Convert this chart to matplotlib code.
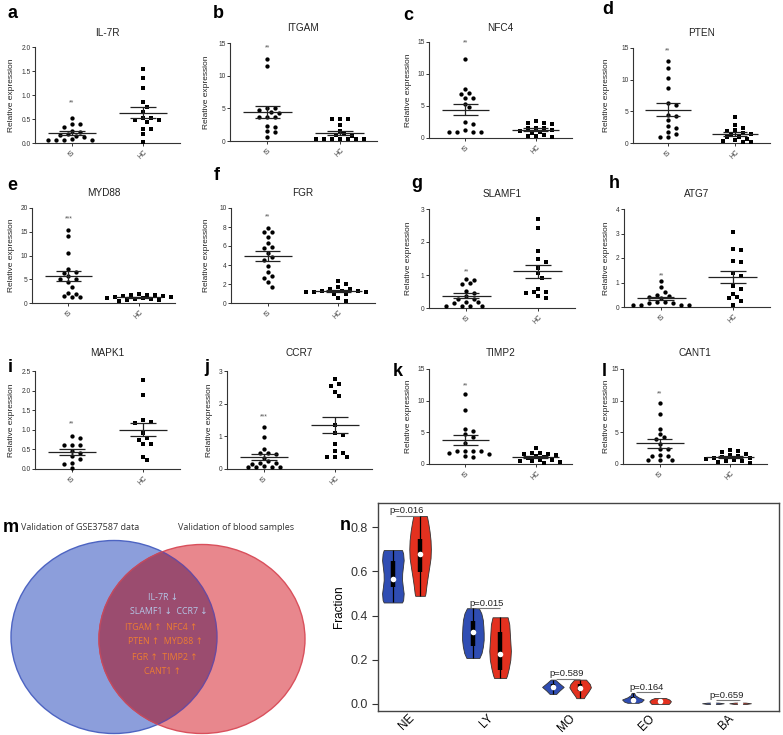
import numpy as np
import matplotlib
matplotlib.use("Agg")
import matplotlib.pyplot as plt
from matplotlib.patches import Ellipse

W, H = 783, 735
plt.rcParams['font.family'] = ['Liberation Sans', 'DejaVu Sans']

# ---------------- data: panels a-l (qPCR, IS vs HC) ----------------
genes = ['IL-7R', 'ITGAM', 'NFC4', 'PTEN', 'MYD88', 'FGR',
         'SLAMF1', 'ATG7', 'MAPK1', 'CCR7', 'TIMP2', 'CANT1']
letters = list('abcdefghijkl')
groups = ['IS', 'HC']
stars = ['**', '**', '**', '**', '***', '**', '**', '**', '**', '***', '**', '**']

is_vals = [
    [0.53, 0.40, 0.40, 0.34, 0.26, 0.22, 0.18, 0.16, 0.15, 0.12, 0.08, 0.07, 0.07, 0.07, 0.07],
    [12.5, 11.5, 5.0, 5.0, 4.7, 4.4, 4.3, 3.6, 3.6, 3.7, 2.3, 2.2, 1.5, 1.4, 0.6],
    [12.4, 7.7, 7.0, 6.8, 6.3, 6.3, 5.3, 4.8, 2.5, 2.2, 1.3, 0.9, 0.9, 0.9, 0.9],
    [13.0, 11.8, 10.2, 8.7, 6.3, 6.0, 4.5, 4.3, 3.6, 2.7, 2.3, 1.8, 1.5, 1.0, 1.0],
    [15.3, 14.1, 10.6, 7.1, 6.6, 6.3, 5.6, 5.0, 5.0, 4.4, 3.4, 2.1, 1.9, 1.4, 1.2, 1.2],
    [7.9, 7.5, 7.5, 6.9, 6.3, 5.9, 5.8, 5.3, 4.8, 4.5, 3.9, 3.3, 2.8, 2.6, 2.2, 1.7],
    [0.88, 0.85, 0.75, 0.74, 0.52, 0.45, 0.35, 0.28, 0.28, 0.18, 0.17, 0.15, 0.07, 0.07, 0.07, 0.07],
    [1.05, 0.82, 0.62, 0.50, 0.45, 0.40, 0.35, 0.20, 0.20, 0.18, 0.17, 0.08, 0.08, 0.08, 0.08],
    [0.83, 0.78, 0.62, 0.62, 0.60, 0.45, 0.42, 0.32, 0.25, 0.15, 0.13, 0.02],
    [1.30, 0.97, 0.60, 0.50, 0.50, 0.45, 0.35, 0.25, 0.18, 0.18, 0.15, 0.08, 0.05, 0.05, 0.05, 0.05],
    [11.1, 8.6, 5.6, 5.2, 4.7, 4.3, 3.3, 2.0, 2.0, 2.0, 2.0, 1.7, 1.6, 1.2, 1.1],
    [9.6, 7.9, 5.6, 4.8, 4.2, 3.9, 3.2, 2.3, 2.3, 1.4, 1.3, 1.2, 0.6, 0.6, 0.6],
]
hc_vals = [
    [1.55, 1.35, 1.15, 0.85, 0.75, 0.64, 0.53, 0.52, 0.48, 0.47, 0.43, 0.30, 0.30, 0.18, 0.02],
    [3.4, 3.4, 3.3, 2.5, 1.5, 1.0, 0.9, 0.8, 0.3, 0.3, 0.3, 0.3, 0.3, 0.3, 0.3],
    [2.6, 2.4, 2.3, 2.2, 1.6, 1.5, 1.5, 1.3, 1.1, 1.0, 0.8, 0.4, 0.3, 0.3, 0.2],
    [4.1, 2.8, 2.4, 2.0, 1.9, 1.6, 1.5, 1.4, 1.0, 0.9, 0.6, 0.5, 0.3, 0.1, 0.1],
    [1.8, 1.7, 1.6, 1.6, 1.5, 1.4, 1.3, 1.2, 1.1, 1.0, 0.9, 0.8, 0.7, 0.6, 0.4],
    [2.3, 2.0, 1.7, 1.5, 1.5, 1.3, 1.3, 1.3, 1.2, 1.2, 1.2, 1.0, 0.9, 0.5, 0.2],
    [2.70, 2.42, 1.72, 1.47, 1.38, 1.22, 1.05, 0.90, 0.57, 0.50, 0.47, 0.45, 0.35, 0.30],
    [3.05, 2.35, 2.33, 1.87, 1.85, 1.38, 1.27, 0.87, 0.75, 0.55, 0.42, 0.35, 0.25, 0.10],
    [2.27, 1.90, 1.25, 1.20, 1.18, 0.92, 0.80, 0.75, 0.65, 0.65, 0.30, 0.22],
    [2.75, 2.60, 2.55, 2.35, 2.25, 1.35, 1.10, 1.05, 0.75, 0.55, 0.50, 0.37, 0.37, 0.37],
    [2.5, 1.8, 1.7, 1.6, 1.5, 1.4, 1.2, 1.1, 0.9, 0.7, 0.6, 0.5, 0.4, 0.3, 0.1],
    [2.2, 2.0, 1.9, 1.6, 1.4, 1.2, 1.1, 1.0, 0.9, 0.8, 0.7, 0.5, 0.4, 0.3, 0.1],
]
y_max = [2.0, 15, 15, 15, 20, 10, 3, 4, 2.5, 3, 15, 15]
y_step = [0.5, 5, 5, 5, 5, 2, 1, 1, 0.5, 1, 5, 5]
star_y = [0.84, 14.3, 14.8, 14.6, 17.7, 9.1, 1.1, 1.28, 1.15, 1.6, 12.4, 11.1]

# ---------------- data: panel m (Venn) ----------------
venn_titles = ['Validation of GSE37587 data', 'Validation of blood samples']
venn_text = ['IL-7R \u2193', 'SLAMF1 \u2193  CCR7 \u2193', 'ITGAM \u2191  NFC4 \u2191',
             'PTEN \u2191  MYD88 \u2191', 'FGR \u2191  TIMP2 \u2191', 'CANT1 \u2191']
venn_dir = ['down', 'down', 'up', 'up', 'up', 'up']

# ---------------- data: panel n (violins) ----------------
cells = ['NE', 'LY', 'MO', 'EO', 'BA']
p_text = ['p=0.016', 'p=0.015', 'p=0.589', 'p=0.164', 'p=0.659']
p_line = [0.851, 0.433, 0.113, 0.053, 0.017]
# density profile (y, relative width) and (min, q1, median, q3, max)
is_prof_y = [[0.459, 0.47, 0.50, 0.53, 0.56, 0.59, 0.62, 0.65, 0.68, 0.696],
             [0.208, 0.23, 0.26, 0.29, 0.32, 0.35, 0.38, 0.41, 0.433],
             [0.045, 0.06, 0.077, 0.095, 0.110],
             [0.005, 0.01, 0.02, 0.03, 0.04, 0.050],
             [0.0, 0.003, 0.006]]
is_prof_w = [[0.85, 0.95, 1.0, 0.92, 0.85, 0.86, 0.93, 1.0, 0.95, 0.85],
             [0.6, 0.8, 0.93, 1.0, 1.0, 0.97, 0.92, 0.78, 0.55],
             [0.3, 0.6, 1.0, 0.55, 0.2],
             [0.5, 0.8, 1.0, 0.5, 0.2, 0.12],
             [0.6, 1.0, 0.5]]
is_box = [(0.459, 0.528, 0.567, 0.648, 0.696),
          (0.208, 0.260, 0.326, 0.373, 0.433),
          (0.045, 0.068, 0.077, 0.090, 0.110),
          (0.005, 0.015, 0.020, 0.030, 0.050),
          (0.0, 0.002, 0.003, 0.004, 0.006)]
hc_prof_y = [[0.489, 0.50, 0.54, 0.58, 0.62, 0.66, 0.70, 0.74, 0.78, 0.82, 0.850],
             [0.117, 0.13, 0.16, 0.20, 0.24, 0.28, 0.32, 0.36, 0.392],
             [0.026, 0.035, 0.055, 0.075, 0.09, 0.110],
             [0.0, 0.005, 0.012, 0.02, 0.027],
             [0.0, 0.003, 0.006]]
hc_prof_w = [[0.45, 0.5, 0.6, 0.72, 0.85, 0.97, 1.0, 0.97, 0.88, 0.75, 0.63],
             [0.55, 0.65, 0.8, 0.95, 1.0, 0.95, 0.9, 0.85, 0.7],
             [0.35, 0.45, 0.75, 1.0, 0.9, 0.55],
             [0.8, 0.9, 1.0, 0.85, 0.5],
             [0.6, 1.0, 0.5]]
hc_box = [(0.489, 0.598, 0.677, 0.744, 0.850),
          (0.117, 0.155, 0.227, 0.325, 0.392),
          (0.026, 0.060, 0.072, 0.090, 0.110),
          (0.0, 0.008, 0.014, 0.020, 0.027),
          (0.0, 0.002, 0.003, 0.004, 0.006)]


def box(x0, y0, x1, y1):
    return [x0 / W, 1 - y1 / H, (x1 - x0) / W, (y1 - y0) / H]


def swarm(vals, ppu_x, ppu_y, d=5.0):
    vals = np.asarray(vals, float)
    xs = np.zeros(len(vals))
    placed = []
    for i in np.argsort(-vals):
        yp = vals[i] * ppu_y
        for k in range(60):
            off = ((k + 1) // 2) * (1 if k % 2 else -1) * d * 0.8
            if all((off - px) ** 2 + (yp - py) ** 2 >= d * d for px, py in placed):
                break
        placed.append((off, yp))
        xs[i] = off / ppu_x
    return xs


fig = plt.figure(figsize=(W / 100, H / 100), dpi=100)

# pixel boxes of the 12 scatter panels
ax_px = [(35, 47, 180, 143), (230, 43, 377, 141), (429, 42, 572, 138), (633, 48, 770, 143),
         (32, 208, 175, 303), (231, 208, 375, 303), (429, 209, 575, 308), (624, 209, 770, 307),
         (35, 371, 180, 469), (227, 371, 372, 469), (429, 369, 572, 464), (623, 369, 767, 464)]
title_y = [33, 28, 28, 33, 193, 193, 194, 194, 353, 353, 353, 353]
letter_xy = [(12, 13), (218, 13), (408, 15), (608, 9), (12, 185), (217, 175), (417, 184),
             (614, 184), (10, 367), (207, 367), (398, 372), (604, 372)]
ylab_x = [15, 210, 412, 610, 15, 210, 412, 610, 15, 213, 412, 610]

xlo, xhi = 0.48, 2.52
for k in range(12):
    x0, y0, x1, y1 = ax_px[k]
    ax = fig.add_axes(box(*ax_px[k]))
    ppu_x = (x1 - x0) / (xhi - xlo)
    ppu_y = (y1 - y0) / y_max[k]
    for gi, (vals, mk, ms) in enumerate([(is_vals[k], 'o', 3.1), (hc_vals[k], 's', 2.8)]):
        xc = gi + 1
        v = np.asarray(vals)
        ax.plot(xc + swarm(v, ppu_x, ppu_y), v, mk, color='black', ms=ms, mew=0,
                clip_on=False, zorder=3)
        m = v.mean()
        sem = v.std(ddof=1) / np.sqrt(len(v))
        ax.hlines(m, xc - 0.34, xc + 0.34, color='#222', lw=0.9, zorder=4)
        ax.hlines([m - sem, m + sem], xc - 0.18, xc + 0.18, color='#222', lw=0.9, zorder=4)
        ax.vlines(xc, m - sem, m + sem, color='#222', lw=0.9, zorder=4)
    ax.text(1, star_y[k], stars[k], ha='center', va='center', fontsize=5, color='#555')
    ax.set_xlim(xlo, xhi)
    ax.set_ylim(0, y_max[k])
    ticks = np.arange(0, y_max[k] + 1e-9, y_step[k])
    ax.set_yticks(ticks)
    if y_step[k] < 1:
        ax.set_yticklabels(['%.1f' % t for t in ticks])
    else:
        ax.set_yticklabels(['%d' % t for t in ticks])
    ax.set_xticks([1, 2])
    ax.set_xticklabels(groups, rotation=45, fontsize=4.8)
    ax.tick_params(axis='y', labelsize=4.8, length=2.2, width=0.7, pad=1, colors='#333')
    ax.tick_params(axis='x', length=2.2, width=0.7, pad=2, colors='#333')
    for s in ['top', 'right']:
        ax.spines[s].set_visible(False)
    for s in ['left', 'bottom']:
        ax.spines[s].set_linewidth(0.8)
        ax.spines[s].set_color('#333')
    ax.set_ylabel('Relative expression', fontsize=6, color='#222')
    ax.yaxis.set_label_coords((ylab_x[k] - x0) / (x1 - x0), 0.5)
    fig.text((x0 + x1) / 2 / W, 1 - title_y[k] / H, genes[k], ha='center', va='center',
             fontsize=7.2, color='#222')
    lx, ly = letter_xy[k]
    fig.text(lx / W, 1 - ly / H, letters[k], ha='center', va='center', fontsize=13,
             fontweight='bold')

# ---------------- panel m: Venn ----------------
axm = fig.add_axes(box(0, 500, 370, 735))
axm.set_xlim(0, 370)
axm.set_ylim(735, 500)
axm.axis('off')
blue_e = Ellipse((114, 637), 206, 193, facecolor='#8c9edb', edgecolor='#4d64c2', lw=1.0, zorder=1)
red_e = Ellipse((202, 639), 206, 189, facecolor='#e8878d', edgecolor='#d9505c', lw=1.0, zorder=2)
axm.add_patch(blue_e)
axm.add_patch(red_e)
mid = Ellipse((202, 639), 206, 189, facecolor='#9b4c6f', edgecolor='none', zorder=3)
axm.add_patch(mid)
mid.set_clip_path(blue_e)
edge_b = Ellipse((114, 637), 206, 193, facecolor='none', edgecolor='#6a4aa0', lw=1.0, zorder=4)
axm.add_patch(edge_b)
edge_b.set_clip_path(red_e)
edge_r = Ellipse((202, 639), 206, 189, facecolor='none', edgecolor='#c04a60', lw=1.0, zorder=4)
axm.add_patch(edge_r)
edge_r.set_clip_path(blue_e)
vx = [163, 169, 161, 165, 165, 162]
vy = [597, 612, 627, 642, 657, 671]
for t, dr, x, y in zip(venn_text, venn_dir, vx, vy):
    axm.text(x, y, t, ha='center', va='center', fontsize=6.3, zorder=5,
             color='#b4c7e7' if dr == 'down' else '#ed7d31',
             family=['Open Sans', 'DejaVu Sans'])
fig.text(80 / W, 1 - 528 / H, venn_titles[0], ha='center', va='center', fontsize=6.5,
         color='#333', family=['Open Sans', 'DejaVu Sans'])
fig.text(236 / W, 1 - 528 / H, venn_titles[1], ha='center', va='center', fontsize=6.5,
         color='#333', family=['Open Sans', 'DejaVu Sans'])
fig.text(11 / W, 1 - 527 / H, 'm', ha='center', va='center', fontsize=13, fontweight='bold')

# ---------------- panel n: violins ----------------
axn = fig.add_axes(box(378, 503, 779, 711))
pos = np.arange(1, len(cells) + 1)
off = 0.17
vw = 0.27
for prof_y, prof_w, bx, dx, col in [(is_prof_y, is_prof_w, is_box, -off, '#2f4db3'),
                                     (hc_prof_y, hc_prof_w, hc_box, off, '#e3311f')]:
    stats = []
    for py, pw, b in zip(prof_y, prof_w, bx):
        stats.append(dict(coords=np.array(py), vals=np.array(pw), mean=b[2],
                          median=b[2], min=b[0], max=b[4]))
    parts = axn.violin(stats, positions=pos + dx, widths=vw, showmeans=False,
                       showextrema=False, showmedians=False)
    for body in parts['bodies']:
        body.set_facecolor(col)
        body.set_edgecolor('#333')
        body.set_linewidth(0.6)
        body.set_alpha(1)
    b = np.array(bx)
    axn.vlines(pos + dx, b[:, 0], b[:, 4], color='black', lw=0.9, zorder=3)
    axn.vlines(pos + dx, b[:, 1], b[:, 3], color='black', lw=3.2, zorder=3)
    axn.scatter(pos + dx, b[:, 2], s=16, color='white', zorder=4, lw=0)
for p, t, yl in zip(pos, p_text, p_line):
    axn.hlines(yl, p - 0.13, p + 0.17, color='#777', lw=0.8)
    axn.text(p, yl + 0.003, t, ha='center', va='bottom', fontsize=6.8, color='#222')
axn.set_xlim(0.644, 5.656)
axn.set_ylim(-0.032, 0.909)
axn.set_yticks([0.0, 0.2, 0.4, 0.6, 0.8])
axn.set_yticklabels(['0.0', '0.2', '0.4', '0.6', '0.8'])
axn.set_xticks(pos)
axn.set_xticklabels(cells, rotation=45, fontsize=8.5, ha='center', va='top')
axn.tick_params(axis='y', labelsize=9, length=4, width=0.8, colors='#333')
axn.tick_params(axis='x', length=0, pad=1)
for s in axn.spines.values():
    s.set_linewidth(1.0)
    s.set_color('#444')
axn.set_ylabel('Fraction', fontsize=8.5, labelpad=4)
fig.text(345 / W, 1 - 525 / H, 'n', ha='center', va='center', fontsize=13, fontweight='bold')

fig.savefig('out.png', dpi=100)
